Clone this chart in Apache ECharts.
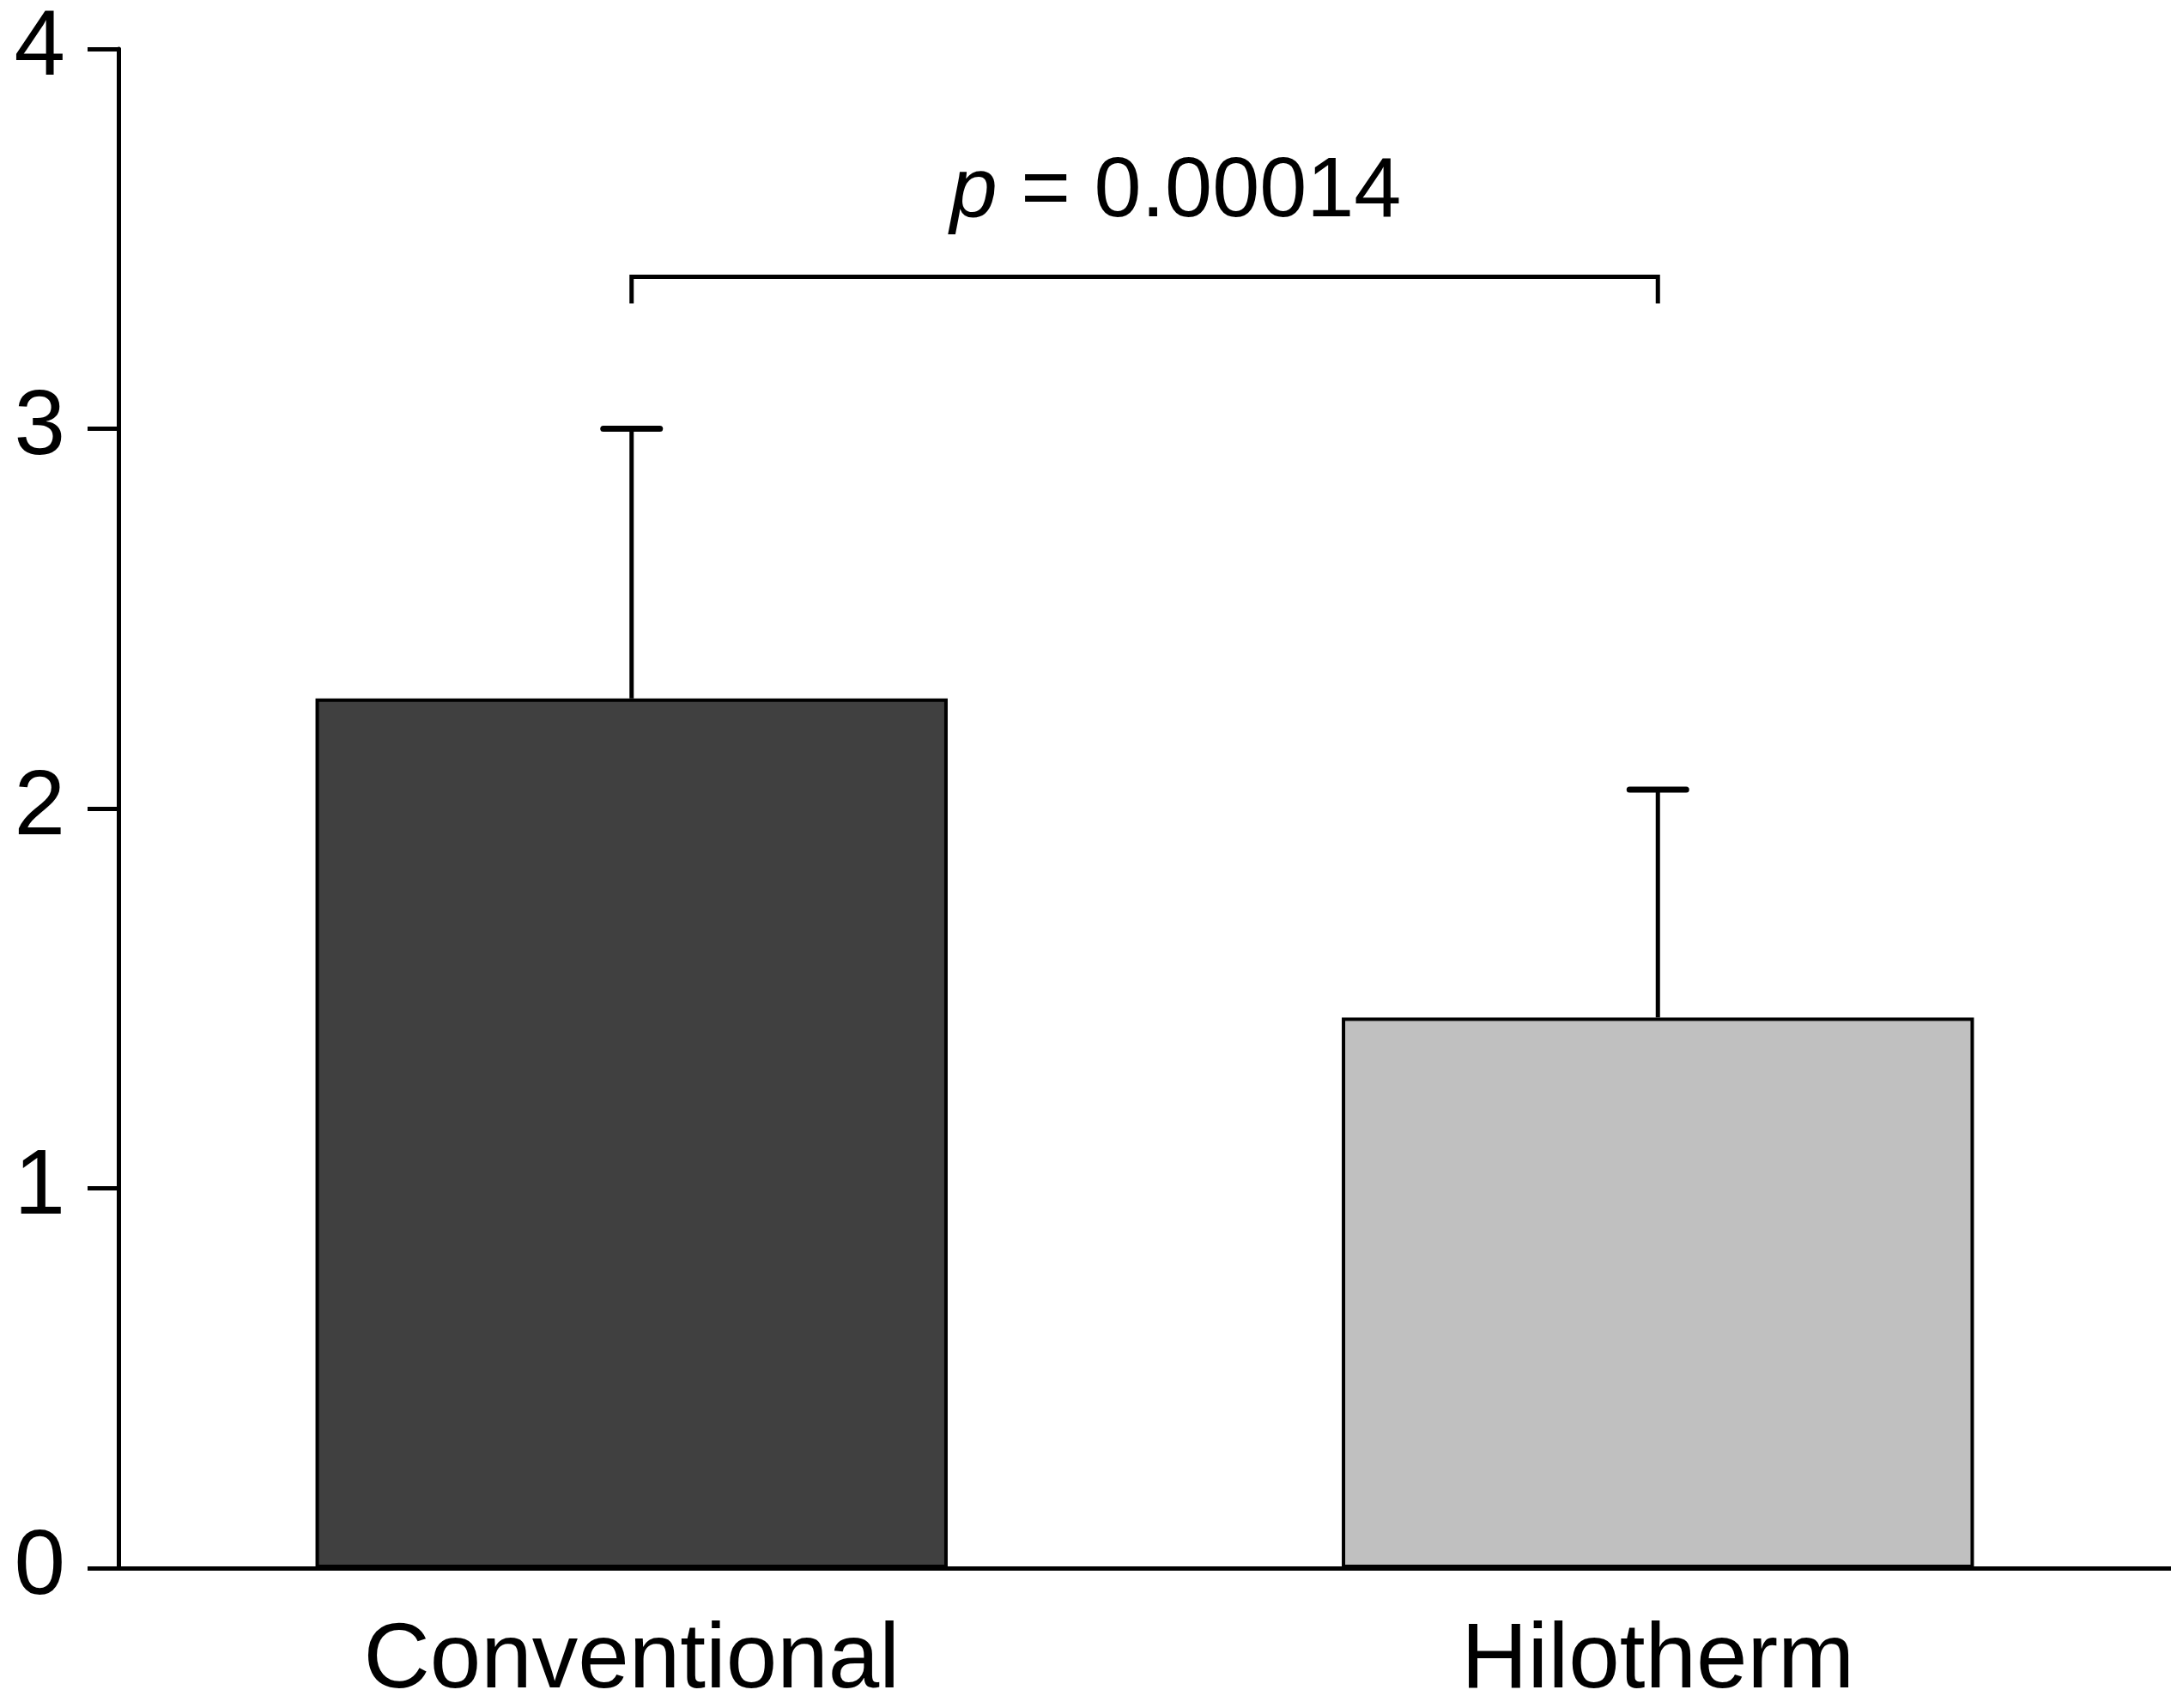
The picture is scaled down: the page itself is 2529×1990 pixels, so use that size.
<!DOCTYPE html>
<html>
<head>
<meta charset="utf-8">
<script src="https://cdn.jsdelivr.net/npm/echarts@6/dist/echarts.min.js"></script>
<style>
html,body{margin:0;padding:0;background:#fff;}
#chart{width:2529px;height:1990px;}
</style>
</head>
<body>
<div id="chart"></div>
<script>
const categories = ['Conventional', 'Hilotherm'];
const means = [2.29, 1.45];
const upperErrors = [3.00, 2.05];
const barColors = ['#404040', '#c0c0c0'];
const yTicks = [0, 1, 2, 3, 4];
const bracketFrom = 0;
const bracketTo = 1;
const bracketTop = 3.40;
const bracketDrop = 3.33;
const pValueItalic = 'p';
const pValueRest = ' = 0.00014';
const pValueY = 3.62;

const FONT = '"Liberation Sans", Arial, sans-serif';
const chart = echarts.init(document.getElementById('chart'), null, {renderer: 'canvas'});

const option = {
  backgroundColor: '#ffffff',
  animation: false,
  grid: {left: 138, right: 0, top: 57, bottom: 153, containLabel: false},
  xAxis: {
    type: 'category',
    data: categories,
    boundaryGap: true,
    axisLine: {show: true, lineStyle: {color: '#000', width: 5}},
    axisTick: {show: false},
    axisLabel: {color: '#000', fontSize: 107, fontFamily: FONT, margin: 56}
  },
  yAxis: {
    type: 'value',
    min: yTicks[0],
    max: yTicks[yTicks.length - 1],
    interval: 1,
    axisLine: {show: true, lineStyle: {color: '#000', width: 5}},
    axisTick: {show: true, inside: false, length: 36, lineStyle: {color: '#000', width: 5}},
    axisLabel: {color: '#000', fontSize: 107, fontFamily: FONT, margin: 62, padding: [0, 0, 16, 0]},
    splitLine: {show: false}
  },
  series: [
    {
      type: 'bar',
      data: means.map((v, i) => ({value: v, itemStyle: {color: barColors[i]}})),
      barWidth: '61.6%',
      itemStyle: {borderColor: '#000', borderWidth: 4},
      z: 2
    },
    {
      type: 'custom',
      z: 3,
      data: means.map((m, i) => [i, m, upperErrors[i]]),
      renderItem: function (params, api) {
        const lo = api.coord([api.value(0), api.value(1)]);
        const hi = api.coord([api.value(0), api.value(2)]);
        const half = 33;
        return {
          type: 'group',
          children: [
            {type: 'line', shape: {x1: lo[0], y1: lo[1], x2: hi[0], y2: hi[1]}, style: {stroke: '#000', lineWidth: 5}},
            {type: 'line', shape: {x1: hi[0] - half, y1: hi[1], x2: hi[0] + half, y2: hi[1]}, style: {stroke: '#000', lineWidth: 7, lineCap: 'round'}}
          ]
        };
      }
    },
    {
      type: 'custom',
      z: 3,
      data: [[bracketFrom, bracketTo, bracketTop, bracketDrop, pValueY]],
      renderItem: function (params, api) {
        const a = api.coord([api.value(0), api.value(2)]);
        const b = api.coord([api.value(1), api.value(2)]);
        const aD = api.coord([api.value(0), api.value(3)]);
        const bD = api.coord([api.value(1), api.value(3)]);
        const t = api.coord([api.value(0), api.value(4)]);
        const cx = (a[0] + b[0]) / 2 + 36;
        return {
          type: 'group',
          children: [
            {type: 'polyline', shape: {points: [[aD[0], aD[1]], [a[0], a[1]], [b[0], b[1]], [bD[0], bD[1]]]}, style: {stroke: '#000', lineWidth: 5, fill: null}},
            {type: 'text', x: cx, y: t[1], style: {
              text: '{i|' + pValueItalic + '}{n|' + pValueRest + '}',
              rich: {
                i: {fontSize: 99, fontStyle: 'italic', fontFamily: FONT, fill: '#000'},
                n: {fontSize: 99, fontFamily: FONT, fill: '#000'}
              },
              align: 'center', verticalAlign: 'middle'
            }}
          ]
        };
      }
    }
  ]
};
chart.setOption(option);
</script>
</body>
</html>
